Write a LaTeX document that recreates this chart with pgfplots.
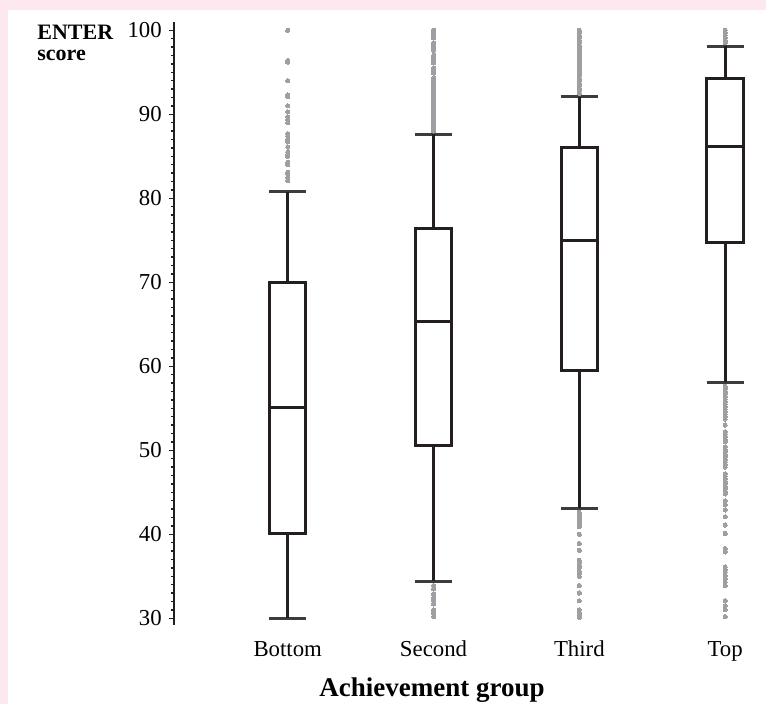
\documentclass[border=0pt]{standalone}
\usepackage{fontspec}
\setmainfont{Liberation Serif}
\usepackage{pgfplots}
\pgfplotsset{compat=1.18}
\definecolor{bgpink}{RGB}{252,232,238}
\definecolor{boxc}{RGB}{35,31,32}
\definecolor{capc}{RGB}{60,60,62}
\definecolor{outc}{RGB}{158,158,163}
\pgfplotsset{
  bx/.style={draw=boxc, line width=1.5pt, line join=miter, no markers},
  cp/.style={draw=capc, line width=1.5pt, no markers},
  ol/.style={color=outc, only marks, mark=*, mark size=1.05pt, mark options={solid, line width=0pt, draw=outc, fill=outc}},
}

\begin{document}
\begin{tikzpicture}[font=\fontsize{11}{13}\selectfont]
\fill[bgpink] (0,0) rectangle (383pt,352pt);
\fill[white] (4pt,0) rectangle (383pt,347pt);
\begin{axis}[
  at={(87pt,39.5pt)}, anchor=south west,
  scale only axis, width=296pt, height=301.56pt,
  xmin=0.22, xmax=4.28, ymin=29.2, ymax=101,
  axis lines*=left,
  x axis line style={draw=none},
  y axis line style={line width=0.8pt, draw=boxc},
  xtick={1,2,3,4}, xticklabels={Bottom,Second,Third,Top},
  major x tick style={draw=none},
  xticklabel style={anchor=north, yshift=-2.6pt, text height=0.7em, text depth=0.25em},
  ytick={30,40,...,100},
  minor y tick num=9,
  tick align=outside,
  major tick length=2.6pt, minor tick length=1.7pt,
  ytick style={line width=0.7pt, draw=boxc},
  tick label style={font=\fontsize{11.4}{13}\selectfont},
  /pgf/number format/assume math mode=true,
]
% ---------- outliers ----------
\addplot[ol] table[row sep=\\] {
x y\\
1 100\\ 1 96.4\\ 1 96.2\\ 1 94.0\\ 1 92.3\\ 1 92.1\\ 1 91.0\\ 1 90.3\\ 1 89.7\\ 1 89.4\\ 1 89.0\\
1 87.7\\ 1 87.4\\ 1 87.0\\ 1 86.7\\ 1 86.1\\ 1 85.5\\ 1 85.2\\ 1 85.0\\ 1 84.3\\ 1 84.0\\
1 83.1\\ 1 82.9\\ 1 82.5\\ 1 82.1\\
};
\addplot[ol] table[row sep=\\] {
x y\\
2 100\\ 2 99.7\\ 2 99.4\\ 2 99.1\\ 2 98.5\\ 2 98.2\\ 2 97.9\\ 2 97.6\\ 2 97.0\\ 2 96.7\\ 2 96.4\\
2 96.1\\ 2 95.5\\ 2 95.2\\ 2 94.9\\ 2 94.3\\ 2 94.0\\ 2 93.7\\ 2 93.4\\ 2 93.1\\ 2 92.8\\ 2 92.5\\
2 92.2\\ 2 91.9\\ 2 91.6\\ 2 91.3\\ 2 91.0\\ 2 90.7\\ 2 90.4\\ 2 90.1\\ 2 89.8\\ 2 89.5\\ 2 89.2\\
2 88.9\\ 2 88.6\\ 2 88.3\\ 2 88.0\\
2 33.9\\ 2 33.5\\ 2 32.9\\ 2 32.4\\ 2 32.1\\ 2 31.7\\ 2 31.0\\ 2 30.6\\ 2 30.2\\
};
\addplot[ol] table[row sep=\\] {
x y\\
3 100\\ 3 99.7\\ 3 99.4\\ 3 99.1\\ 3 98.8\\ 3 98.5\\ 3 98.2\\ 3 97.9\\ 3 97.6\\ 3 97.3\\ 3 97.0\\
3 96.7\\ 3 96.4\\ 3 96.1\\ 3 95.8\\ 3 95.5\\ 3 95.2\\ 3 94.9\\ 3 94.6\\ 3 94.3\\ 3 94.0\\ 3 93.7\\
3 93.4\\ 3 93.1\\ 3 92.8\\ 3 92.5\\
3 42.6\\ 3 42.3\\ 3 42.0\\ 3 41.7\\ 3 41.4\\ 3 41.1\\ 3 40.9\\ 3 40.0\\ 3 38.9\\ 3 38.1\\ 3 36.9\\
3 36.6\\ 3 36.3\\ 3 36.0\\ 3 35.6\\ 3 35.3\\ 3 35.0\\ 3 33.9\\ 3 33.0\\ 3 32.1\\ 3 31.0\\ 3 30.7\\
3 30.4\\ 3 30.1\\
};
\addplot[ol] table[row sep=\\] {
x y\\
4 100\\ 4 99.7\\ 4 99.4\\ 4 99.1\\ 4 98.8\\ 4 98.5\\
4 57.6\\ 4 57.3\\ 4 57.0\\ 4 56.7\\ 4 56.4\\ 4 56.1\\ 4 55.8\\ 4 55.5\\ 4 55.2\\ 4 54.9\\ 4 54.6\\
4 54.3\\ 4 54.0\\ 4 53.7\\ 4 53.0\\ 4 52.2\\ 4 51.9\\ 4 51.6\\ 4 51.3\\ 4 51.0\\ 4 50.4\\ 4 50.1\\
4 49.8\\ 4 49.5\\ 4 49.2\\ 4 48.9\\ 4 48.6\\ 4 48.3\\ 4 48.0\\ 4 47.2\\ 4 46.9\\ 4 46.6\\ 4 46.3\\
4 46.0\\ 4 45.7\\ 4 45.4\\ 4 45.1\\ 4 44.8\\ 4 44.0\\ 4 43.5\\ 4 42.9\\ 4 42.1\\ 4 41.1\\ 4 40.1\\
4 38.3\\ 4 37.9\\ 4 36.1\\ 4 35.8\\ 4 35.5\\ 4 35.1\\ 4 34.7\\ 4 34.3\\ 4 33.9\\ 4 32.1\\ 4 31.5\\
4 31.0\\ 4 30.2\\
};
% ---------- Bottom: 30 / 40.1 / 55.1 / 70.0 / 80.75 ----------
\addplot[cp] coordinates {(0.8725,80.75) (1.1275,80.75)};
\addplot[cp] coordinates {(0.8725,30) (1.1275,30)};
\addplot[bx] coordinates {(1,70.0) (1,80.75)};
\addplot[bx] coordinates {(1,40.1) (1,30)};
\addplot[bx] coordinates {(0.875,40.1) (1.125,40.1) (1.125,70.0) (0.875,70.0)} -- cycle;
\addplot[bx] coordinates {(0.875,55.1) (1.125,55.1)};
% ---------- Second: 34.4 / 50.6 / 65.3 / 76.4 / 87.6 ----------
\addplot[cp] coordinates {(1.8725,87.6) (2.1275,87.6)};
\addplot[cp] coordinates {(1.8725,34.4) (2.1275,34.4)};
\addplot[bx] coordinates {(2,76.4) (2,87.6)};
\addplot[bx] coordinates {(2,50.6) (2,34.4)};
\addplot[bx] coordinates {(1.875,50.6) (2.125,50.6) (2.125,76.4) (1.875,76.4)} -- cycle;
\addplot[bx] coordinates {(1.875,65.3) (2.125,65.3)};
% ---------- Third: 43.1 / 59.5 / 75.0 / 86.1 / 92.1 ----------
\addplot[cp] coordinates {(2.8725,92.1) (3.1275,92.1)};
\addplot[cp] coordinates {(2.8725,43.1) (3.1275,43.1)};
\addplot[bx] coordinates {(3,86.1) (3,92.1)};
\addplot[bx] coordinates {(3,59.5) (3,43.1)};
\addplot[bx] coordinates {(2.875,59.5) (3.125,59.5) (3.125,86.1) (2.875,86.1)} -- cycle;
\addplot[bx] coordinates {(2.875,75.0) (3.125,75.0)};
% ---------- Top: 58.1 / 74.7 / 86.2 / 94.25 / 98.1 ----------
\addplot[cp] coordinates {(3.8725,98.1) (4.1275,98.1)};
\addplot[cp] coordinates {(3.8725,58.1) (4.1275,58.1)};
\addplot[bx] coordinates {(4,94.25) (4,98.1)};
\addplot[bx] coordinates {(4,74.7) (4,58.1)};
\addplot[bx] coordinates {(3.875,74.7) (4.125,74.7) (4.125,94.25) (3.875,94.25)} -- cycle;
\addplot[bx] coordinates {(3.875,86.2) (4.125,86.2)};
\end{axis}
\node[anchor=base west, font=\fontsize{11}{13}\selectfont\bfseries, inner sep=0] at (18.5pt,332pt) {ENTER};
\node[anchor=base west, font=\fontsize{11}{13}\selectfont\bfseries, inner sep=0] at (18.5pt,321.5pt) {score};
\node[anchor=base, font=\fontsize{13.5}{15}\selectfont\bfseries, inner sep=0] at (216pt,3.8pt) {Achievement group};
\pgfresetboundingbox
\path[use as bounding box] (0,0) rectangle (383pt,352pt);
\end{tikzpicture}
\end{document}
